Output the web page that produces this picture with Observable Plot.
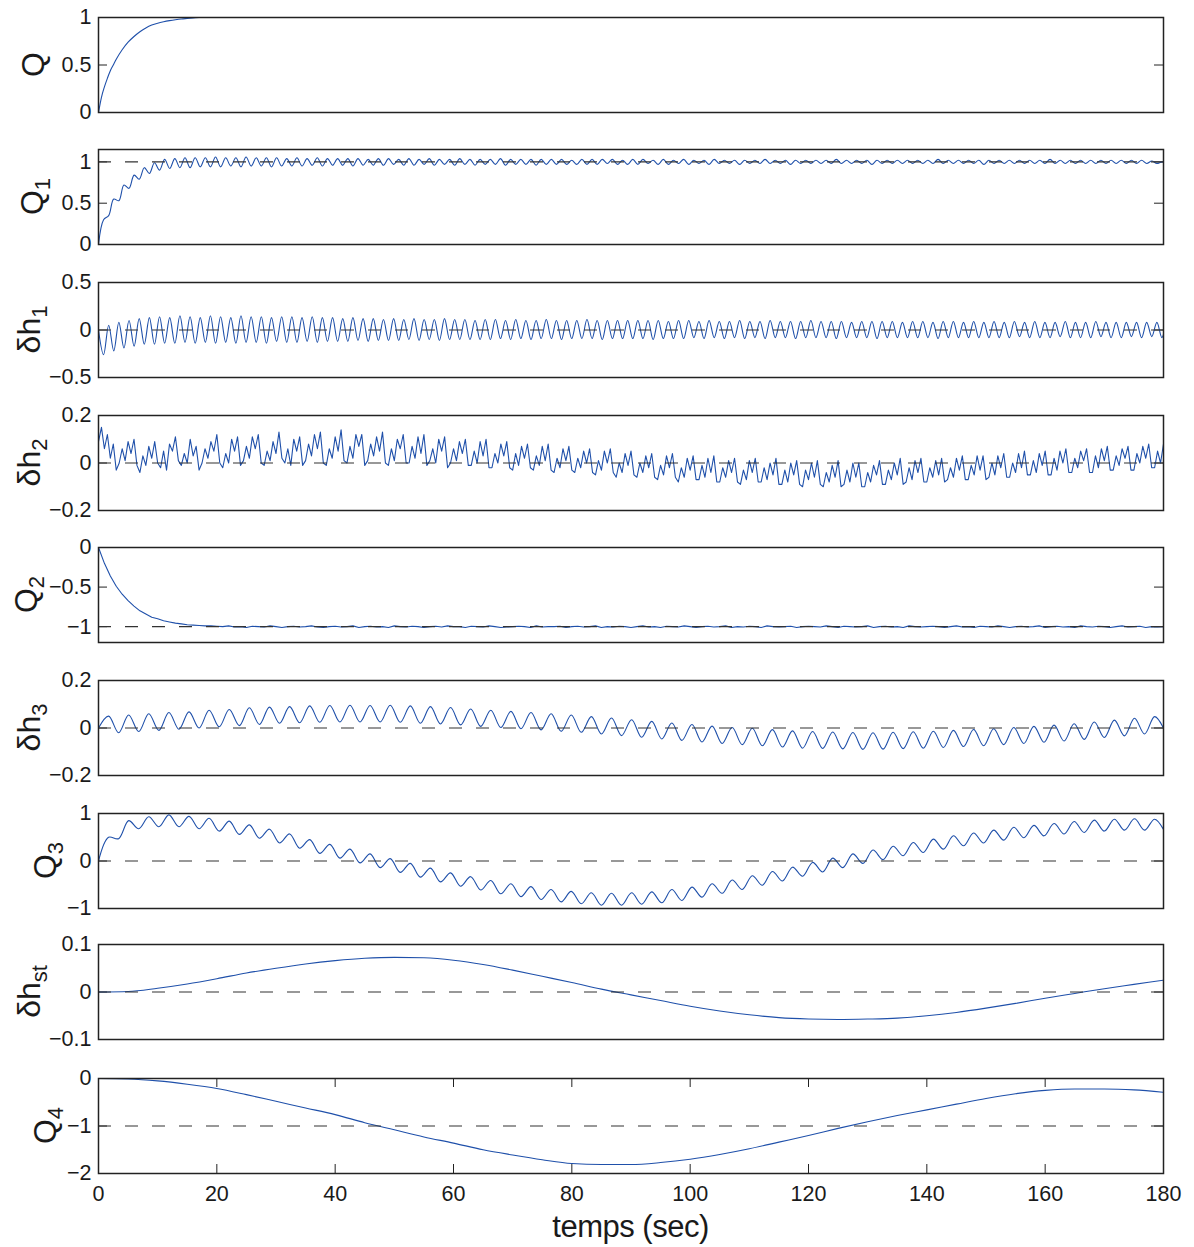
<!DOCTYPE html>
<html><head><meta charset="utf-8">
<script src="https://cdn.jsdelivr.net/npm/d3@7"></script>
<script src="https://cdn.jsdelivr.net/npm/@observablehq/plot@0.6"></script>
<style>
body{margin:0;background:#fff;}
#chart{position:relative;width:1194px;height:1247px;font-family:"Liberation Sans",Arial,sans-serif;}
#chart svg{position:absolute;left:0;overflow:visible;}
</style></head><body><div id="chart"></div>
<script>
// ---- data ----
const xTicks = [0,20,40,60,80,100,120,140,160,180];

const qT = [0,0.5,1,1.5,2,2.5,3,4,5,6,7,8,9,10,11,12,13,14,15,16,17,180];
const qV = [0,0.16,0.27,0.36,0.44,0.5,0.56,0.66,0.74,0.8,0.85,0.89,0.92,0.94,0.955,0.967,0.977,0.985,0.99,0.995,1,1];

const q1Step = 0.86;
const q1 = [0,0.3,0.35,0.55,0.53,0.72,0.68,0.84,0.79,0.93,0.86,0.99,0.9,1.03,0.92,1.04,0.93,1.05,0.93,1.05,
0.94,1.05,0.94,1.06,0.94,1.05,0.95,1.05,0.94,1.06,0.95,1.05,0.95,1.05,0.94,1.05,0.95,1.04,0.95,1.05,
0.95,1.04,0.96,1.05,0.95,1.04,0.96,1.04,
0.96,1.04,0.95,1.04,0.96,1.03,0.96,1.04,0.96,1.04,0.97,1.03,0.96,1.04,0.96,1.03,0.97,1.04,0.96,1.03,
0.97,1.03,0.96,1.04,0.97,1.03,0.96,1.03,0.97,1.03,0.97,1.04,0.96,1.03,0.97,1.03,0.97,1.03,0.96,1.03,
0.97,1.03,0.97,1.03,0.97,1.02,0.97,1.03,0.97,1.03,0.97,1.03,0.98,1.03,0.97,1.02,0.97,1.03,0.97,1.03,
0.98,1.02,0.97,1.03,0.97,1.02,0.98,1.03,0.97,1.02,
0.98,1.02,0.97,1.03,0.98,1.02,0.98,1.02,0.97,1.02,0.98,1.02,0.98,1.03,0.98,1.02,0.98,1.02,0.97,1.02,
0.98,1.02,0.98,1.02,0.98,1.02,0.98,1.03,0.98,1.02,0.98,1.02,0.98,1.02,0.97,1.02,0.98,1.02,0.98,1.02,
0.98,1.02,0.98,1.02,0.98,1.02,0.98,1.03,0.98,1.02,0.98,1.02,0.98,1.02,0.98,1.02,0.97,1.02,0.98,1.02,
0.98,1.02,0.98,1.02,0.98,1.02,0.98,1.02,0.98,1.03,0.98,1.02,0.98,1.02,0.98,1.02,0.98,1.02,0.98,1.02,
0.98,1.02,0.98,1.02,0.98,1.02,0.98,1.02,0.98,1.01,0.98,1.0,0.99,1.0];

const dh1Step = 0.86;
const dh1 = [0,-0.26,0.05,-0.22,0.08,-0.19,0.1,-0.17,0.12,-0.15,0.13,-0.15,
0.14,-0.14,0.13,-0.14,0.15,-0.13,0.14,-0.14,0.13,-0.13,0.15,-0.14,
0.14,-0.13,0.13,-0.14,0.15,-0.13,0.14,-0.13,0.14,-0.14,0.13,-0.12,
0.14,-0.13,0.14,-0.13,0.13,-0.12,0.14,-0.13,0.13,-0.12,0.13,-0.12,
0.12,-0.12,0.13,-0.11,0.12,-0.12,0.12,-0.11,0.11,-0.11,0.12,-0.11,0.11,-0.1,0.12,-0.11,0.11,-0.1,0.11,-0.11,
0.12,-0.1,0.11,-0.1,0.11,-0.1,0.1,-0.1,0.11,-0.1,0.11,-0.09,0.1,-0.1,0.11,-0.09,0.1,-0.1,0.1,-0.09,
0.11,-0.09,0.1,-0.1,0.1,-0.09,0.1,-0.09,0.11,-0.09,0.1,-0.1,0.1,-0.09,0.1,-0.09,0.1,-0.09,0.1,-0.09,
0.1,-0.1,0.1,-0.09,0.09,-0.09,0.1,-0.09,0.1,-0.08,
0.09,-0.09,0.1,-0.08,0.09,-0.09,0.09,-0.08,0.1,-0.09,0.09,-0.08,0.09,-0.09,0.1,-0.08,0.09,-0.08,0.09,-0.09,
0.09,-0.08,0.1,-0.08,0.09,-0.08,0.09,-0.09,0.09,-0.08,0.08,-0.08,0.09,-0.08,0.09,-0.09,0.09,-0.08,0.09,-0.08,
0.08,-0.08,0.09,-0.08,0.09,-0.08,0.08,-0.09,0.09,-0.08,0.09,-0.08,0.08,-0.08,0.09,-0.08,0.08,-0.08,0.09,-0.08,
0.08,-0.08,0.09,-0.07,0.08,-0.08,0.09,-0.08,0.08,-0.08,0.08,-0.07,0.09,-0.08,0.08,-0.08,0.08,-0.08,0.09,-0.07,
0.08,-0.08,0.08,-0.08,0.08,-0.07,0.08,-0.08,0.08,-0.07,0.08,-0.08,0.08,-0.07];

const dh2Step = 0.5;
const dh2 = [
0.09,0.15,0.06,0.12,0.02,0.08,-0.03,
0.0,0.06,0.01,0.09,0.04,0.1,-0.01,
-0.04,0.03,-0.01,0.07,0.02,0.09,0.0,
-0.02,0.05,-0.03,0.08,0.05,0.11,0.01,
-0.01,0.04,0.0,0.1,0.03,0.07,-0.03,
0.0,0.06,0.02,0.09,0.05,0.12,0.0,
-0.02,0.04,0.0,0.1,0.05,0.11,-0.01,
0.01,0.07,0.02,0.11,0.06,0.12,0.0,
-0.01,0.05,0.01,0.09,0.04,0.13,0.02,
0.0,0.06,-0.01,0.1,0.05,0.11,-0.01,
0.01,0.08,0.03,0.12,0.06,0.13,0.0,
-0.01,0.06,0.02,0.11,0.05,0.14,0.01,
0.0,0.07,0.02,0.12,0.07,0.12,-0.01,
0.01,0.08,0.03,0.11,0.05,0.13,0.0,
-0.01,0.06,0.01,0.1,0.06,0.12,0.0,
0.0,0.07,0.02,0.11,0.04,0.12,-0.01,
0.01,0.06,0.0,0.1,0.05,0.11,-0.02,
0.0,0.06,0.01,0.09,0.04,0.1,-0.01,
-0.01,0.05,0.0,0.09,0.03,0.1,-0.02,
-0.02,0.04,0.0,0.08,0.03,0.09,-0.02,
-0.03,0.04,-0.01,0.07,0.02,0.08,-0.02,
-0.03,0.03,-0.01,0.07,0.01,0.08,-0.03,
-0.04,0.02,-0.02,0.06,0.01,0.07,-0.03,
-0.04,0.02,-0.02,0.05,0.0,0.06,-0.04,
-0.05,0.01,-0.03,0.05,0.0,0.06,-0.04,
-0.06,0.0,-0.04,0.04,-0.01,0.05,-0.05,
-0.06,0.0,-0.04,0.03,-0.02,0.04,-0.06,
-0.07,-0.01,-0.05,0.03,-0.02,0.04,-0.06,
-0.08,-0.02,-0.06,0.02,-0.03,0.03,-0.07,
-0.07,-0.01,-0.06,0.02,-0.04,0.03,-0.08,
-0.08,-0.02,-0.06,0.01,-0.04,0.02,-0.08,
-0.09,-0.03,-0.07,0.01,-0.04,0.02,-0.08,
-0.08,-0.02,-0.07,0.0,-0.05,0.02,-0.09,
-0.09,-0.03,-0.08,0.0,-0.05,0.01,-0.09,
-0.1,-0.03,-0.07,0.0,-0.06,0.01,-0.09,
-0.1,-0.04,-0.08,-0.01,-0.06,0.01,-0.1,
-0.09,-0.03,-0.08,0.0,-0.06,0.0,-0.1,
-0.1,-0.04,-0.08,-0.01,-0.05,0.01,-0.09,
-0.09,-0.03,-0.07,0.0,-0.05,0.02,-0.09,
-0.08,-0.02,-0.07,0.01,-0.04,0.02,-0.08,
-0.08,-0.02,-0.06,0.01,-0.05,0.02,-0.08,
-0.07,-0.02,-0.06,0.02,-0.03,0.03,-0.07,
-0.07,-0.01,-0.05,0.03,-0.03,0.03,-0.07,
-0.06,0.0,-0.05,0.03,-0.02,0.04,-0.06,
-0.06,0.0,-0.04,0.04,-0.02,0.05,-0.05,
-0.05,0.01,-0.04,0.04,-0.01,0.05,-0.05,
-0.05,0.02,-0.03,0.05,0.0,0.06,-0.04,
-0.04,0.02,-0.02,0.05,0.01,0.06,-0.04,
-0.04,0.03,-0.02,0.06,0.01,0.07,-0.03,
-0.03,0.03,-0.01,0.06,0.02,0.07,-0.03,
-0.03,0.04,0.0,0.07,0.02,0.08,-0.02,
-0.02,0.05,0.0,0.08,0.03,0.07,-0.01];

const q2Step = 1;
const q2 = [0,-0.2,-0.36,-0.49,-0.59,-0.67,-0.74,-0.8,-0.84,-0.88,-0.9,-0.925,-0.94,-0.955,-0.965,-0.975,-0.98,-0.985,-0.99,-0.99,-0.995,
-1,-0.99,-1.005,-1,-1.01,-0.995,-1,-1.005,-0.99,-1,-1.01,-1,-0.995,-1.005,-1,-0.99,-1.005,-1.01,-1,-0.995,
-1.005,-1,-0.99,-1.01,-1,-0.995,-1.005,-1,-1.01,-0.99,-1,-1.005,-0.995,-1,-1.01,-1,-0.995,-1.005,-0.99,-1,
-1,-1.01,-0.995,-1,-1.005,-0.99,-1,-1.01,-1.005,-1,-0.995,-1,-1.01,-0.99,-1.005,-1,-1,-0.995,-1.01,-1,
-0.995,-1.005,-1,-0.99,-1.01,-1,-1.005,-0.995,-1,-1.01,-1,-0.99,-1.005,-1,-1.01,-0.995,-1,-1.005,-0.99,-1,
-1.01,-1,-0.995,-1.005,-1,-0.99,-1.01,-1,-1.005,-0.995,-1,-1.01,-0.99,-1,-1.005,-1,-0.995,-1.01,-1,-0.995,
-1,-1.005,-0.99,-1,-1.01,-0.995,-1,-1.005,-1,-0.99,-1.01,-1,-0.995,-1.005,-1,-1.01,-0.99,-1,-1.005,-1,
-0.995,-1,-1.01,-1,-0.99,-1.005,-1,-1.01,-0.995,-1,-1.005,-0.99,-1,-1.01,-1,-0.995,-1.005,-1,-0.99,-1.01,
-1,-0.995,-1.005,-1,-1.01,-0.99,-1,-1.005,-0.995,-1,-1.01,-1,-0.99,-1.005,-1,-0.995,-1.01,-1,-1.005,-1];

const dh3Step = 1.7;
const dh3 = [0,0.05,-0.02,0.055,-0.015,0.06,-0.01,0.065,-0.005,0.068,0,0.075,0.005,0.078,0.01,0.085,0.015,0.088,0.02,0.09,
0.022,0.093,0.024,0.095,0.025,0.096,0.025,0.095,0.025,0.096,0.024,0.093,0.02,0.09,0.017,0.086,0.013,0.08,0.007,0.075,
0.002,0.07,-0.003,0.065,-0.008,0.06,-0.014,0.055,-0.018,0.048,-0.025,0.042,-0.032,0.035,-0.039,0.028,-0.046,0.021,-0.052,0.015,
-0.059,0.008,-0.065,0.002,-0.07,-0.001,-0.075,-0.007,-0.08,-0.012,-0.085,-0.015,-0.086,-0.017,-0.088,-0.019,-0.09,-0.02,-0.089,-0.018,
-0.087,-0.016,-0.085,-0.014,-0.082,-0.01,-0.078,-0.006,-0.075,-0.003,-0.07,0.002,-0.065,0.007,-0.06,0.012,-0.055,0.018,-0.048,0.025,
-0.04,0.033,-0.033,0.041,-0.025,0.048,-0.01];

const q3Step = 1.7;
const q3 = [0,0.5,0.47,0.85,0.68,0.93,0.72,0.97,0.72,0.94,0.68,0.9,0.63,0.84,0.56,0.76,0.48,0.67,0.38,0.57,
0.27,0.45,0.16,0.35,0.06,0.25,-0.04,0.15,-0.14,0.05,-0.24,-0.05,-0.34,-0.15,-0.44,-0.25,-0.53,-0.33,-0.61,-0.41,
-0.69,-0.48,-0.75,-0.54,-0.81,-0.6,-0.86,-0.64,-0.9,-0.67,-0.93,-0.68,-0.93,-0.67,-0.91,-0.65,-0.88,-0.6,-0.83,-0.55,
-0.76,-0.48,-0.68,-0.4,-0.6,-0.31,-0.51,-0.22,-0.42,-0.13,-0.32,-0.03,-0.23,0.06,-0.14,0.15,-0.05,0.23,0.03,0.31,
0.11,0.39,0.18,0.46,0.25,0.53,0.32,0.59,0.38,0.65,0.44,0.71,0.49,0.75,0.53,0.79,0.57,0.83,0.6,0.86,
0.63,0.88,0.65,0.89,0.65,0.88,0.62];

const dhstT = [0,5,10,15,20,25,30,35,40,45,50,55,60,65,70,75,80,85,90,95,100,105,110,115,120,125,130,135,140,145,150,155,160,165,170,175,180];
const dhst = [0,0.001,0.008,0.017,0.028,0.04,0.05,0.059,0.066,0.071,0.073,0.072,0.067,0.058,0.046,0.033,0.02,0.006,-0.006,-0.018,
-0.03,-0.04,-0.048,-0.054,-0.057,-0.058,-0.057,-0.055,-0.05,-0.043,-0.034,-0.024,-0.013,-0.003,0.007,0.016,0.025];

const q4T = dhstT;
const q4 = [0,-0.01,-0.05,-0.12,-0.21,-0.34,-0.48,-0.62,-0.76,-0.93,-1.08,-1.23,-1.36,-1.5,-1.61,-1.71,-1.79,-1.81,-1.81,-1.77,
-1.7,-1.6,-1.48,-1.34,-1.2,-1.05,-0.91,-0.78,-0.66,-0.54,-0.42,-0.32,-0.25,-0.22,-0.22,-0.24,-0.29];

// ---- panels ----
const stepped = (arr, step) => arr.map((v, i) => ({t: i * step, v}));
const paired = (ts, vs) => ts.map((t, i) => ({t, v: vs[i]}));

const panels = [
  {lab:["Q",""],   lx:44, top:17,   domain:[0,1],      ticks:[0,0.5,1],     ref:null, data:paired(qT,qV),       curve:"monotone-x"},
  {lab:["Q","1"],  lx:43, top:149,  domain:[0,1.15],   ticks:[0,0.5,1],     ref:1,    data:stepped(q1,q1Step),   curve:"catmull-rom"},
  {lab:["δh","1"], lx:40, top:282,  domain:[-0.5,0.5], ticks:[-0.5,0,0.5],  ref:0,    data:stepped(dh1,dh1Step), curve:"catmull-rom"},
  {lab:["δh","2"], lx:40, top:415,  domain:[-0.2,0.2], ticks:[-0.2,0,0.2],  ref:0,    data:stepped(dh2,dh2Step), curve:"linear"},
  {lab:["Q","2"],  lx:37, top:547,  domain:[-1.2,0],   ticks:[-1,-0.5,0],   ref:-1,   data:stepped(q2,q2Step),   curve:"linear"},
  {lab:["δh","3"], lx:40, top:680,  domain:[-0.2,0.2], ticks:[-0.2,0,0.2],  ref:0,    data:stepped(dh3,dh3Step), curve:"catmull-rom"},
  {lab:["Q","3"],  lx:56, top:813,  domain:[-1,1],     ticks:[-1,0,1],      ref:0,    data:stepped(q3,q3Step),   curve:"catmull-rom"},
  {lab:["δh","st"],lx:40, top:944,  domain:[-0.1,0.1], ticks:[-0.1,0,0.1],  ref:0,    data:paired(dhstT,dhst),   curve:"monotone-x"},
  {lab:["Q","4"],  lx:56, top:1078, domain:[-2,0],     ticks:[-2,-1,0],     ref:-1,   data:paired(q4T,q4),       curve:"monotone-x"}
];

const W = 1194, ML = 98, MR = 31, H = 95, MT = 14;
const PW = W - ML - MR;
const FONT = "'Liberation Sans', Arial, sans-serif";
const fmt = d => (d < 0 ? "\u2212" : "") + Math.abs(d);
const chart = document.getElementById("chart");

panels.forEach((p, k) => {
  const last = k === panels.length - 1;
  const MB = last ? 1247 - p.top - H : 14;
  const marks = [
    Plot.ruleY(p.ticks, {insetRight: PW - 9, stroke: "#222"}),
    Plot.ruleY(p.ticks, {insetLeft: PW - 9, stroke: "#222"})
  ];
  if (last) {
    marks.push(Plot.ruleX(xTicks, {insetTop: H - 9, stroke: "#222"}));
    marks.push(Plot.ruleX(xTicks, {insetBottom: H - 9, stroke: "#222"}));
  }
  marks.push(Plot.line(p.data, {x: "t", y: "v", stroke: "#1f50aa", strokeWidth: 1.1, curve: p.curve, clip: true}));
  if (p.ref !== null) marks.push(Plot.ruleY([p.ref], {stroke: "#333", strokeWidth: 1.1, strokeDasharray: "13,14"}));
  marks.push(Plot.frame({stroke: "#222", strokeWidth: 1.5}));

  const svg = Plot.plot({
    width: W, height: H + MT + MB,
    marginLeft: ML, marginRight: MR, marginTop: MT, marginBottom: MB,
    x: {domain: [0, 180], axis: last ? "bottom" : null, ticks: xTicks, tickSize: 0, tickPadding: 12, label: null},
    y: {domain: p.domain, ticks: p.ticks, tickSize: 0, tickPadding: 7, tickFormat: fmt, label: null},
    style: {fontSize: "21.5px", fontFamily: FONT, color: "#1a1a1a", background: "transparent", overflow: "visible"},
    marks
  });
  svg.style.top = (p.top - MT) + "px";
  chart.appendChild(svg);

  const t = d3.select(svg).append("text")
    .attr("transform", `translate(${p.lx},${MT + H / 2}) rotate(-90)`)
    .attr("text-anchor", "middle")
    .attr("font-size", 32)
    .attr("fill", "#1a1a1a")
    .attr("font-family", FONT);
  t.append("tspan").text(p.lab[0]);
  if (p.lab[1]) t.append("tspan").attr("font-size", 22).attr("dy", 7).text(p.lab[1]);

  if (last) {
    d3.select(svg).append("text")
      .attr("x", ML + PW / 2).attr("y", MT + H + 64)
      .attr("text-anchor", "middle")
      .attr("font-size", 31)
      .attr("fill", "#1a1a1a")
      .attr("font-family", FONT)
      .attr("letter-spacing", -0.5)
      .text("temps (sec)");
  }
});
</script></body></html>
